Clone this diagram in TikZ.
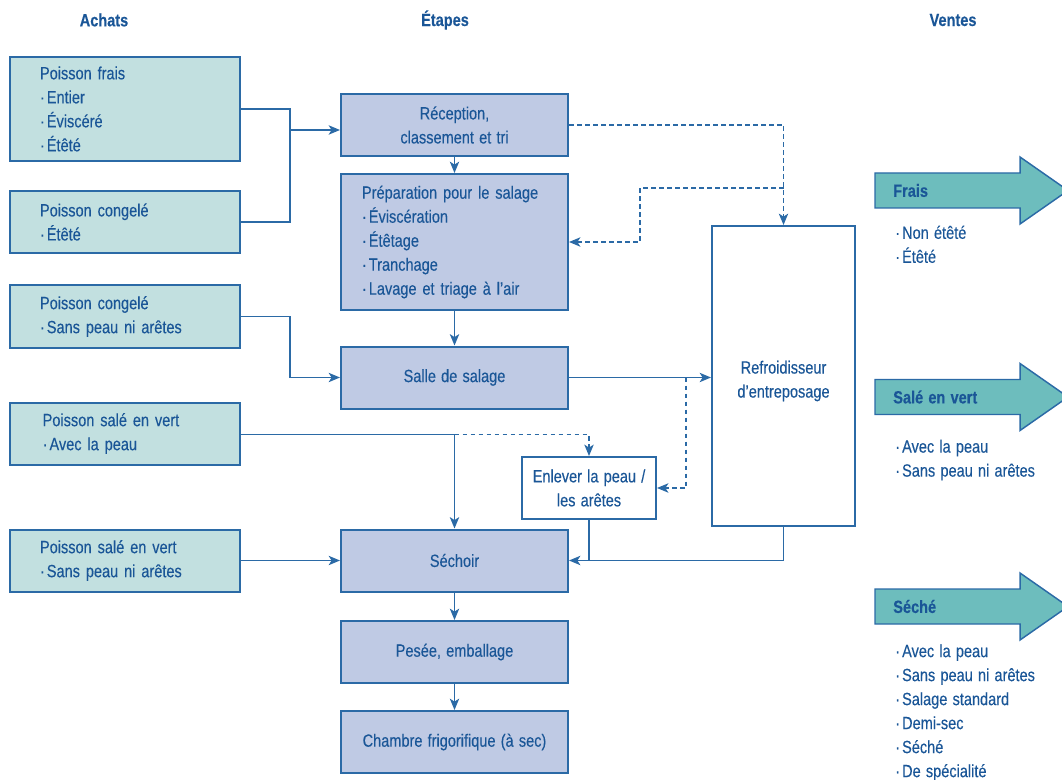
\documentclass[tikz,border=0pt]{standalone}
\usepackage{fontspec}
\setmainfont{Liberation Sans}[FakeStretch=0.82, FakeBold=0.25]
\usetikzlibrary{arrows.meta}
\definecolor{textblue}{HTML}{1A5697}
\definecolor{lineblue}{HTML}{2B6AA6}
\definecolor{achatfill}{HTML}{C2E0E0}
\definecolor{etapefill}{HTML}{BFCAE4}
\definecolor{ventefill}{HTML}{6DBDBD}
\newcommand{\bul}{·\hspace{1.5pt}}
\newcommand{\txtfont}{\fontsize{13.3pt}{18pt}\selectfont\spaceskip=3.9pt\relax}
\begin{document}
\begin{tikzpicture}[x=0.75pt,y=-0.75pt,
  every node/.style={font=\txtfont, text=textblue},
  achat/.style={rectangle, draw=lineblue, fill=achatfill, line width=1.5pt,
    inner xsep=22.5pt, inner ysep=0pt, text width=127.5pt, align=left},
  etape/.style={rectangle, draw=lineblue, fill=etapefill, line width=1.5pt,
    minimum width=170.25pt, minimum height=46.5pt, align=center},
  plain/.style={rectangle, draw=lineblue, fill=white, line width=1.5pt, align=center},
  head/.style={font=\bfseries\txtfont},
  conn/.style={draw=lineblue, line width=1.25pt},
  arr/.style={conn, -{Stealth[length=8.5pt,width=7pt,inset=2.2pt]}},
  darr/.style={arr, dash pattern=on 3.5pt off 2.5pt},
  vente/.style={draw=lineblue, fill=ventefill, line width=1.1pt}
]
\useasboundingbox (0,0) rectangle (1062,780);

% headers
\node[head] (hA) at (104,20) {Achats};
\node[head] (hE) at (445,20) {Étapes};
\node[head] (hV) at (953,20) {Ventes};

% Achats
\node[achat, minimum height=78pt] (a1) at (125,109) {Poisson frais\\\bul Entier\\\bul Éviscéré\\\bul Étêté};
\node[achat, minimum height=46.5pt] (a2) at (125,222) {Poisson congelé\\\bul Étêté};
\node[achat, minimum height=46.5pt] (a3) at (125,316.5) {Poisson congelé\\\bul Sans peau ni arêtes};
\node[achat, minimum height=46.5pt] (a4) at (125,433.5) {\hspace{2pt}Poisson salé en vert\\\hspace{2pt}\bul Avec la peau};
\node[achat, minimum height=46.5pt] (a5) at (125,560.5) {Poisson salé en vert\\\bul Sans peau ni arêtes};

% Etapes
\node[etape] (rec) at (454.5,125) {Réception,\\classement et tri};
\node[etape, minimum height=102pt, inner xsep=15.75pt, text width=138.75pt, align=left] (prep) at (454.5,242)
  {Préparation pour le salage\\\bul Éviscération\\\bul Étêtage\\\bul Tranchage\\\bul Lavage et triage à l’air};
\node[etape] (salle) at (454.5,377.5) {Salle de salage};
\node[etape] (sech) at (454.5,560.5) {Séchoir};
\node[etape] (pese) at (454.5,652) {Pesée, emballage};
\node[etape] (chamb) at (454.5,742) {Chambre frigorifique (à sec)};
\node[plain, minimum width=100.5pt, minimum height=46.5pt] (enl) at (589,488) {Enlever la peau /\\les arêtes};
\node[plain, minimum width=107.25pt, minimum height=225pt] (refr) at (783.5,376) {};
\node[align=center] (refrtxt) at (783.5,381) {Refroidisseur\\d’entreposage};

% Ventes arrows
\foreach \cy/\nm in {190.5/Frais, 397/Salé en vert, 606.5/Séché}{
  \path[vente] (875,\cy-17.5) -- (1020,\cy-17.5) -- (1020,\cy-33.5) -- (1068,\cy) --
    (1020,\cy+33.5) -- (1020,\cy+17.5) -- (875,\cy+17.5) -- cycle;
  \node[head, anchor=west, inner sep=0pt] at (893,\cy) {\nm};
}
\node[anchor=north west, align=left, inner sep=0pt] (vf) at (895,225.5) {\bul Non étêté\\\bul Étêté};
\node[anchor=north west, align=left, inner sep=0pt] (vs) at (895,439.5) {\bul Avec la peau\\\bul Sans peau ni arêtes};
\node[anchor=north west, align=left, inner sep=0pt] (vd) at (895,644) {\bul Avec la peau\\\bul Sans peau ni arêtes\\\bul Salage standard\\\bul Demi-sec\\\bul Séché\\\bul De spécialité};

% connectors
\coordinate (jx) at (290,0);
\draw[conn] (a1.east) -- (a1.east -| jx) -- (a2.east -| jx) -- (a2.east);
\coordinate (j1) at (290,130);
\draw[arr] (j1) -- (rec.west |- j1);
\draw[arr] (rec.south) -- (prep.north);
\draw[arr] (prep.south) -- (salle.north);
\draw[arr] (a3.east) -- (a3.east -| jx) |- (salle.west);
\draw[arr] (salle.east) -- (refr.west |- salle.east);
\draw[darr] (rec.east) -| (refr.north);
\coordinate (d1) at (783.5,188);
\coordinate (d1b) at (640,188);
\draw[darr] (d1) -- (d1b) |- (prep.east);
\coordinate (d2) at (686,377.5);
\draw[darr] (d2) |- (enl.east);
\coordinate (j4) at (454.5,434.5);
\draw[conn] (a4.east |- j4) -- (j4);
\draw[arr] (j4) -- (sech.north);
\draw[darr] (j4) -| (enl.north);
\draw[conn] (enl.south) -- (enl.south |- sech.east);
\draw[arr] (refr.south) |- (sech.east);
\draw[arr] (a5.east) -- (sech.west);
\draw[arr] (sech.south) -- (pese.north);
\draw[arr] (pese.south) -- (chamb.north);
\end{tikzpicture}
\end{document}
